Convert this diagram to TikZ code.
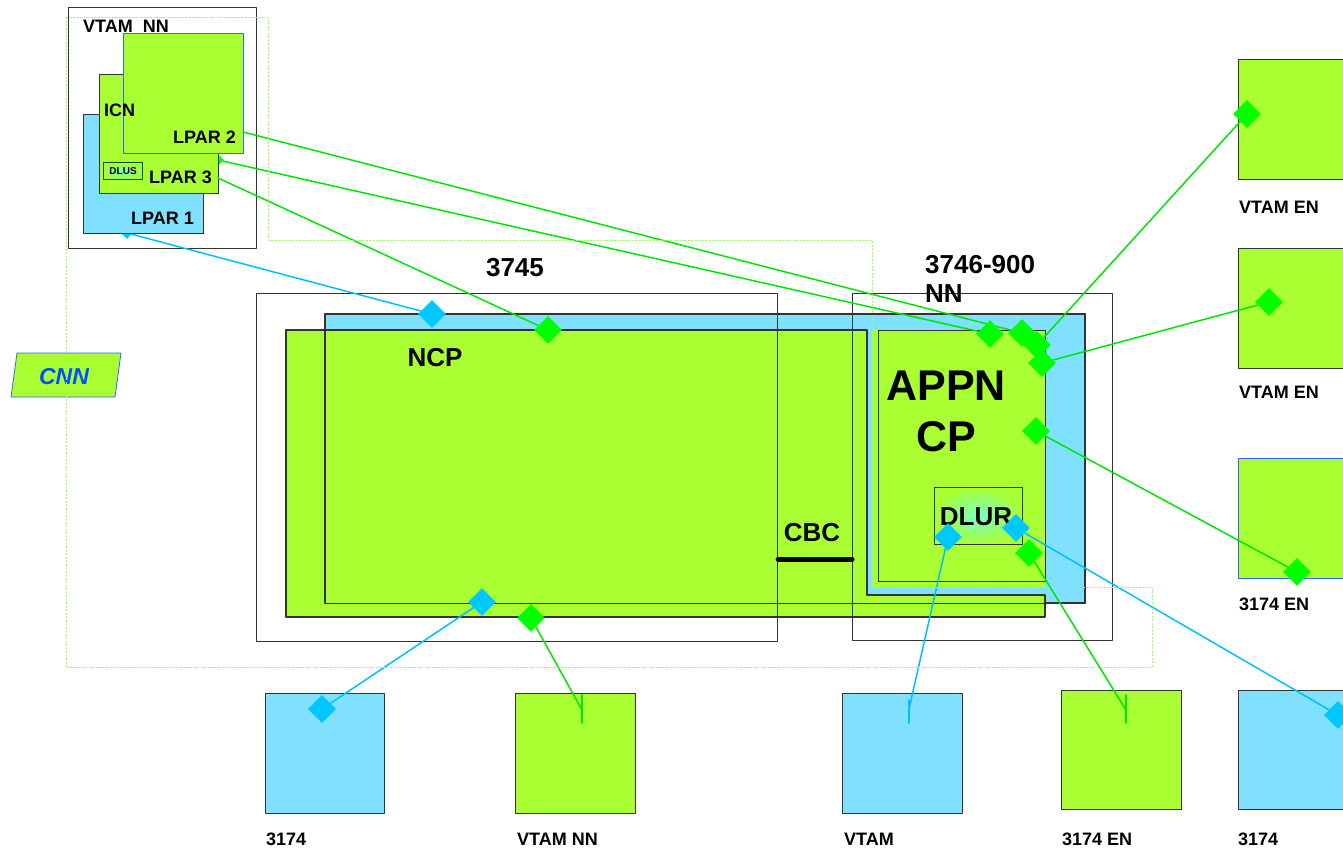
\documentclass[tikz,border=0pt]{standalone}
\usepackage{fontspec}
\setmainfont{Liberation Sans}
\usetikzlibrary{shapes.geometric}
\definecolor{gfill}{RGB}{170,255,51}
\definecolor{bfill}{RGB}{128,224,255}
\definecolor{gdot}{RGB}{0,255,0}
\definecolor{bdot}{RGB}{0,200,255}
\definecolor{gwire}{RGB}{0,230,0}
\definecolor{bwire}{RGB}{0,190,255}
\definecolor{cnnblue}{RGB}{0,80,255}
\definecolor{edgeblue}{RGB}{50,100,255}
\definecolor{cnndot}{RGB}{150,255,100}
\definecolor{glow}{RGB}{120,255,200}
\pgfdeclarelayer{front}
\pgfsetlayers{main,front}
\begin{document}
\begin{tikzpicture}[x=1pt, y=-1pt, font=\bfseries, line join=round, line cap=round,
	box/.style={draw=black!80, anchor=north west, inner sep=0pt, line width=1.2pt},
	gbox/.style={box, fill=gfill},
	bbox/.style={box, fill=bfill},
	gdia/.style={diamond, fill=gdot, inner sep=0pt, minimum size=28pt},
	bdia/.style={diamond, fill=bdot, inner sep=0pt, minimum size=28pt},
	gline/.style={draw=gwire, line width=1.5pt},
	bline/.style={draw=bwire, line width=1.5pt},
	lbl/.style={anchor=west, inner sep=0pt, font=\fontsize{18}{20}\selectfont\bfseries},
	mid/.style={font=\fontsize{26}{30}\selectfont\bfseries}]
	\useasboundingbox (0,0) rectangle (1343,851);
	
	% VTAM NN host
	\node[box, minimum width=188pt, minimum height=241pt] (vtamnn) at (68,7) {};
	\node[bdia, minimum size=12pt] (p1) at (127,233) {};
	\node[gdia, minimum size=12pt] (p3) at (218,160) {};
	\node[bbox, minimum width=120pt, minimum height=119pt] (lpar1) at (83,114) {};
	\node[gbox, minimum width=119pt, minimum height=119pt] (lpar3) at (99,74) {};
	\node[gbox, draw=edgeblue, minimum width=120pt, minimum height=120pt] (lpar2) at (123,33) {};
	\node[box, minimum width=39pt, minimum height=17pt, inner color=glow, outer color=gfill, draw=green!35!black] (dlus) at (103,162) {};
	\node[font=\fontsize{10}{10}\selectfont\bfseries] (dlust) at (dlus.center) {DLUS};
	\node[lbl, anchor=west] (vtamnnl) at (83,26) {VTAM\ \ NN};
	\node[lbl] (icn) at (104,110) {ICN};
	\node[lbl, anchor=east] (lpar2l) at (236,137) {LPAR 2};
	\node[lbl, anchor=east] (lpar3l) at (212,177) {LPAR 3};
	\node[lbl, anchor=east] (lpar1l) at (194,218) {LPAR 1};
	\coordinate (l2) at (243,132);
	\coordinate (l3) at (218,178);
	
	% 3745 and 3746
	\node[bbox, minimum width=759pt, minimum height=288pt] (ncp) at (325,314) {};
	\draw[draw=black!80, fill=gfill, line width=1.2pt] (286,330) -- (867,330) -- (867,595) -- (1045,595) -- (1045,617) -- (286,617) -- cycle;
	\draw[draw=black!80, line width=1.2pt] (ncp.north west) rectangle (ncp.south east);
	\fill[gfill] (872,330) rectangle (1045,587);
	\node[gbox, minimum width=167pt, minimum height=251pt] (appn) at (878,330) {};
	\node[box, minimum width=88pt, minimum height=57pt, inner color=glow, outer color=gfill] (dlur) at (934,487) {};
	\node[box, minimum width=521pt, minimum height=348pt] (box3745) at (256,293) {};
	\node[box, minimum width=260pt, minimum height=347pt] (box3746) at (852,293) {};
	\draw[line width=5pt] (box3745.east |- 0,559) -- (box3746.west |- 0,559);
	\node[mid] (cbc) at (812,533) {CBC};
	\node[mid] (t3745) at (515,268) {3745};
	\node[mid, anchor=west, inner sep=0pt] (t3746) at (925,265) {3746-900};
	\node[mid, anchor=west, inner sep=0pt] (t3746b) at (925,294) {NN};
	\node[mid] (ncpl) at (435,358) {NCP};
	\node[font=\fontsize{43}{46}\selectfont\bfseries] (appnl) at (946,386) {APPN};
	\node[font=\fontsize{43}{46}\selectfont\bfseries] (cpl) at (946,437) {CP};
	\node[mid] (dlurl) at (976,517) {DLUR};
	
	% end nodes
	\node[gbox, minimum width=120pt, minimum height=120pt] (vtamen1) at (1238,59) {};
	\node[gbox, minimum width=120pt, minimum height=120pt] (vtamen2) at (1238,248) {};
	\node[gbox, draw=edgeblue, minimum width=120pt, minimum height=120pt] (en3174) at (1238,458) {};
	\node[lbl] (vtamen1l) at (1239,207) {VTAM EN};
	\node[lbl] (vtamen2l) at (1239,392) {VTAM EN};
	\node[lbl] (en3174l) at (1239,604) {3174 EN};
	\node[bbox, minimum width=119pt, minimum height=120pt] (b3174) at (265,693) {};
	\node[gbox, minimum width=120pt, minimum height=120pt] (bvtamnn) at (515,693) {};
	\node[bbox, minimum width=120pt, minimum height=120pt] (bvtam) at (842,693) {};
	\node[gbox, minimum width=120pt, minimum height=119pt] (ben3174) at (1061,690) {};
	\node[bbox, minimum width=120pt, minimum height=119pt] (b3174r) at (1238,690) {};
	\node[lbl] (b3174l) at (266,839) {3174};
	\node[lbl] (bvtamnnl) at (517,839) {VTAM NN};
	\node[lbl] (bvtaml) at (844,839) {VTAM};
	\node[lbl] (ben3174l) at (1062,839) {3174 EN};
	\node[lbl] (b3174rl) at (1238,839) {3174};
	
	% CNN
	\draw[draw=edgeblue, fill=gfill, line width=0.8pt] (17,353) -- (121,353) -- (115,397) -- (11,397) -- cycle;
	\node[font=\fontsize{23}{25}\selectfont\bfseries\itshape, text=cnnblue] (cnn) at (64,377) {CNN};
	
	% link stations
	\begin{pgfonlayer}{front}
		\node[bdia] (n1) at (432,314) {};
		\node[gdia] (n2) at (548,330) {};
		\node[bdia] (n3) at (482,602) {};
		\node[gdia] (n4) at (531,618) {};
		\node[gdia] (a1) at (990,334) {};
		\node[gdia] (a2) at (1022,333) {};
		\node[gdia] (a3) at (1037,345) {};
		\node[gdia] (a4) at (1042,363) {};
		\node[gdia] (a5) at (1036,431) {};
		\node[gdia] (a6) at (1029,553) {};
		\node[bdia] (r1) at (948,537) {};
		\node[bdia] (r2) at (1016,528) {};
		\node[gdia] (e1) at (1247,114) {};
		\node[gdia] (e2) at (1269,302) {};
		\node[gdia] (e3) at (1297,572) {};
		\node[bdia] (s1) at (322,709) {};
		\node[bdia] (s5) at (1338,715) {};
	\end{pgfonlayer}
	\coordinate (t2) at (582,710);
	\coordinate (t3) at (909,709);
	\coordinate (t4) at (1126,710);
	
	% links
	\draw[gline] (l2) -- (a2);
	\draw[gline] (p3) -- (a1);
	\draw[gline] (l3) -- (n2);
	\draw[bline] (p1) -- (n1);
	\draw[gline] (e1) -- (a3);
	\draw[gline] (e2) -- (a4);
	\draw[gline] (a5) -- (e3);
	\draw[gline] (a6) -- (t4);
	\draw[gline] ([yshift=15pt]t4) -- ([yshift=-13pt]t4);
	\draw[bline] (r1) -- (t3);
	\draw[bline] ([yshift=9pt]t3) -- ([yshift=-14pt]t3);
	\draw[bline] (r2) -- (s5);
	\draw[gline] (n4) -- (t2);
	\draw[gline] ([yshift=15pt]t2) -- ([yshift=-13pt]t2);
	\draw[bline] (n3) -- (s1);
	
	% CNN boundary
	\draw[cnndot, line cap=butt, dash pattern=on 2pt off 1.5pt, line width=1pt] (66,18) -- (268,18) -- (268,240) -- (872,240) -- (872,587) -- (1152,587) -- (1152,667) -- (66,667) -- cycle;
\end{tikzpicture}
\end{document}
